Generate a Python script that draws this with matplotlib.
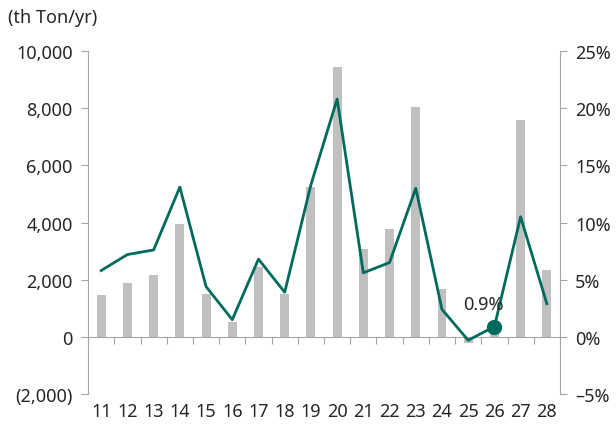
import numpy as np
from matplotlib import pyplot as plt
from matplotlib.ticker import FuncFormatter

plt.rcParams['font.family'] = ['Noto Sans', 'DejaVu Sans']

years = ['11', '12', '13', '14', '15', '16', '17', '18', '19', '20',
         '21', '22', '23', '24', '25', '26', '27', '28']
volume = [1450, 1870, 2150, 3950, 1500, 530, 2450, 1500, 5250, 9450,
          3070, 3780, 8050, 1680, -200, 450, 7600, 2350]
growth = [5.8, 7.2, 7.6, 13.1, 4.4, 1.5, 6.8, 3.9, 13.3, 20.8,
          5.6, 6.5, 13.0, 2.4, -0.3, 0.9, 10.5, 2.9]
highlight = 15  # index of 26

bar_color = '#c0c0c0'
line_color = '#006b5c'
axis_color = '#a6a6a6'
text_color = '#262626'

x = np.arange(len(years))

fig = plt.figure(figsize=(6.16, 4.27), dpi=100)
ax = fig.add_axes([0.143, 0.075, 0.766, 0.803])
ax.bar(x, volume, width=0.34, color=bar_color, zorder=2)
ax.set_xlim(-0.5, len(years) - 0.5)
ax.set_ylim(-2000, 10000)
ax.set_yticks(range(-2000, 10001, 2000))


def fmt_left(v, pos):
    if v < 0:
        return '({:,.0f})'.format(-v)
    return '{:,.0f}'.format(v)


ax.yaxis.set_major_formatter(FuncFormatter(fmt_left))
ax.spines['top'].set_visible(False)
ax.spines['right'].set_visible(False)
ax.spines['left'].set_color(axis_color)
ax.spines['bottom'].set_position(('data', 0))
ax.spines['bottom'].set_color(axis_color)
ax.set_xticks(np.arange(len(years) + 1) - 0.5)
ax.tick_params(axis='x', length=5, color=axis_color, labelbottom=False)
ax.tick_params(axis='y', length=5, color=axis_color, labelsize=13,
               labelcolor=text_color, pad=6)

sec = ax.secondary_xaxis('bottom')
sec.set_xticks(x)
sec.set_xticklabels(years)
sec.spines['bottom'].set_visible(False)
sec.tick_params(length=0, labelsize=13, labelcolor=text_color, pad=6)

ax2 = ax.twinx()
ax2.plot(x, growth, color=line_color, lw=2, zorder=3)
ax2.plot(x[highlight], growth[highlight], 'o', color=line_color, ms=10)
ax2.annotate('{}%'.format(growth[highlight]), (x[highlight], growth[highlight]),
             xytext=(-8, 16), textcoords='offset points', ha='center', va='center',
             fontsize=13, color=text_color)
ax2.set_ylim(-5, 25)
ax2.set_yticks(range(-5, 26, 5))
ax2.yaxis.set_major_formatter(FuncFormatter(
    lambda v, pos: ('\u2013{:.0f}%'.format(-v) if v < 0 else '{:.0f}%'.format(v))))
for s in ['top', 'left', 'bottom']:
    ax2.spines[s].set_visible(False)
ax2.spines['right'].set_color(axis_color)
ax2.tick_params(axis='y', length=5, color=axis_color, labelsize=13,
                labelcolor=text_color, pad=6)

fig.text(0.013, 0.958, '(th Ton/yr)', fontsize=13, color=text_color,
         ha='left', va='center')

fig.savefig('out.png', dpi=100)
